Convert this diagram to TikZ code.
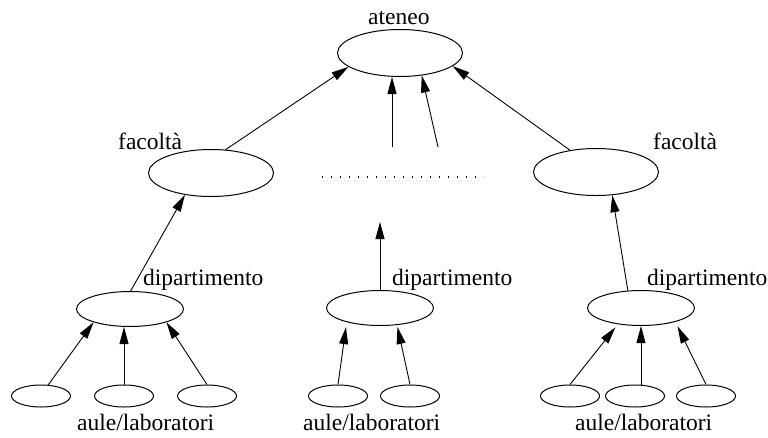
\documentclass[tikz,border=0pt]{standalone}
\usepackage{fontspec}
\setmainfont{Liberation Serif}
\usetikzlibrary{arrows.meta,shapes.geometric}
\begin{document}
\begin{tikzpicture}[x=1pt,y=-1pt,
  every node/.style={font=\fontsize{23.5}{28}\selectfont},
  unit/.style={draw, ellipse, line width=1pt, inner sep=0pt,
    minimum width=125pt, minimum height=47pt},
  dept/.style={unit, minimum width=107pt, minimum height=35pt},
  room/.style={unit, minimum width=59pt, minimum height=22pt},
  tag/.style={inner sep=0pt, anchor=base west},
  link/.style={line width=0.9pt, -{Triangle[length=17pt,width=9pt]}},
]
\useasboundingbox (0,0) rectangle (768,437);

% hierarchy levels
\node[unit] (at) at (400,53) {};
\node[unit] (fl) at (211,173) {};
\node[unit] (fr) at (596,172) {};
\node[dept] (dl) at (130,309) {};
\node[dept] (dm) at (380,308) {};
\node[dept] (dr) at (641,308) {};
\node[room] (sl1) at (41,396) {};
\node[room] (sl2) at (124,396) {};
\node[room] (sl3) at (207,396) {};
\node[room] (sm1) at (338,396) {};
\node[room] (sm2) at (410,396) {};
\node[room] (sr1) at (570,396) {};
\node[room] (sr2) at (635,396) {};
\node[room] (sr3) at (706,396) {};

% labels
\node[tag] (lat) at (368,24) {ateneo};
\node[tag] (lfl) at (118,149) {facoltà};
\node[tag] (lfr) at (653,149) {facoltà};
\node[tag] (ldl) at (143,285) {dipartimento};
\node[tag] (ldm) at (392,285) {dipartimento};
\node[tag] (ldr) at (647,285) {dipartimento};
\node[tag] (lsl) at (77,430) {aule/laboratori};
\node[tag] (lsm) at (303,430) {aule/laboratori};
\node[tag] (lsr) at (575,430) {aule/laboratori};

% free ends
\coordinate (m1) at (392,147);
\coordinate (m2) at (438,147);
\coordinate (dtop) at (380,222);
\coordinate (dotl) at (322,177);
\coordinate (dotr) at (484,177);

% connectors
\draw[link] (fl.58) -- (at.195);
\draw[link] (fr.140) -- (at.346);
\draw[link] (m1) -- (m1 |- at.south);
\draw[link] (m2) -- (at.314);
\draw[link] (dl.88) -- (fl.220);
\draw[link] (dm.north) -- (dtop);
\draw[link] (dr.127) -- (fr.305);
\draw[link] (sl1.57) -- (dl.200);
\draw[link] (sl2.north) -- (sl2.north |- dl.south);
\draw[link] (sl3.north) -- (dl.340);
\draw[link, shorten >=5pt] (sm1.north) -- (dm.203);
\draw[link, shorten >=2pt] (sm2.north) -- (dm.315);
\draw[link, shorten >=4pt] (sr1.north) -- (dr.215);
\draw[link] (dr.south |- sr2.north) -- (dr.south);
\draw[link, shorten >=5pt] (sr3.north) -- (dr.338);

% elided faculties
\draw[line width=1.3pt, dash pattern=on 1.3pt off 7.7pt] (dotl) -- (dotr);
\end{tikzpicture}
\end{document}
